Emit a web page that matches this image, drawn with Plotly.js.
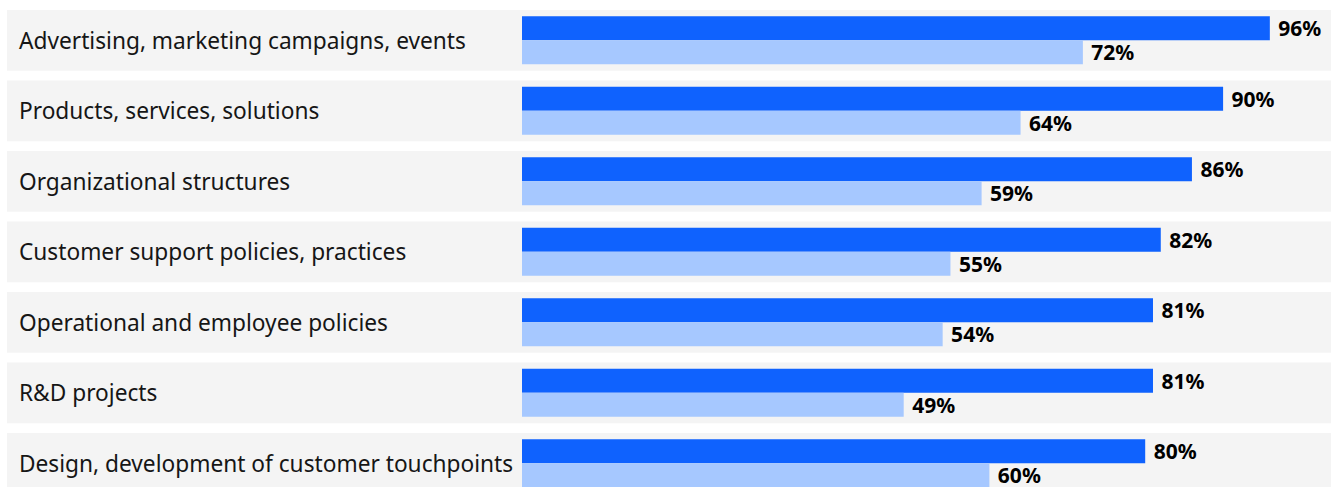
<!DOCTYPE html>
<html>
<head>
<meta charset="utf-8">
<script src="https://cdn.plot.ly/plotly-3.0.1.min.js"></script>
<style>html,body{margin:0;padding:0;background:#fff;}#chart{width:1333px;height:487px;}</style>
</head>
<body>
<div id="chart"></div>
<script>
const categories = [
  "Advertising, marketing campaigns, events",
  "Products, services, solutions",
  "Organizational structures",
  "Customer support policies, practices",
  "Operational and employee policies",
  "R&D projects",
  "Design, development of customer touchpoints"
];
const seriesDark = [96, 90, 86, 82, 81, 81, 80];
const seriesLight = [72, 64, 59, 55, 54, 49, 60];

const labelFont = {family: "Noto Sans, sans-serif", size: 21, color: "#000000", weight: "bold"};

const traces = [
  {type: "bar", orientation: "h", y: categories, x: seriesDark, name: "A",
   marker: {color: "#0f62fe"}, texttemplate: "\u00a0%{x}%", textposition: "outside",
   constraintext: "none", textfont: labelFont, cliponaxis: false, hoverinfo: "skip"},
  {type: "bar", orientation: "h", y: categories, x: seriesLight, name: "B",
   marker: {color: "#a6c8ff"}, texttemplate: "\u00a0%{x}%", textposition: "outside",
   constraintext: "none", textfont: labelFont, cliponaxis: false, hoverinfo: "skip"}
];

const shapes = categories.map((c, i) => ({
  type: "rect", xref: "paper", yref: "y", x0: 7/1333, x1: 1331/1333,
  y0: i - 0.4305, y1: i + 0.4305, fillcolor: "#f4f4f4", line: {width: 0}, layer: "below"
}));

const annotations = categories.map((c, i) => ({
  xref: "paper", yref: "y", x: 17/1333, y: c, xanchor: "left", yanchor: "middle",
  text: c.replace(/&/g, "&amp;"), showarrow: false,
  font: {family: "Noto Sans, sans-serif", size: 22.7, color: "#161616"}
}));

const pxPerUnit = 7.79;
const layout = {
  width: 1333, height: 487,
  margin: {l: 0, r: 0, t: 0, b: 0},
  paper_bgcolor: "#ffffff", plot_bgcolor: "rgba(0,0,0,0)",
  barmode: "group", bargap: 0.319, bargroupgap: 0,
  showlegend: false,
  xaxis: {domain: [0, 1], range: [-522/pxPerUnit, 811/pxPerUnit], visible: false, fixedrange: true},
  yaxis: {type: "category", range: [6.336, -0.5716], visible: false, fixedrange: true},
  shapes: shapes,
  annotations: annotations
};

Plotly.newPlot("chart", traces, layout, {displayModeBar: false, staticPlot: true});
</script>
</body>
</html>
